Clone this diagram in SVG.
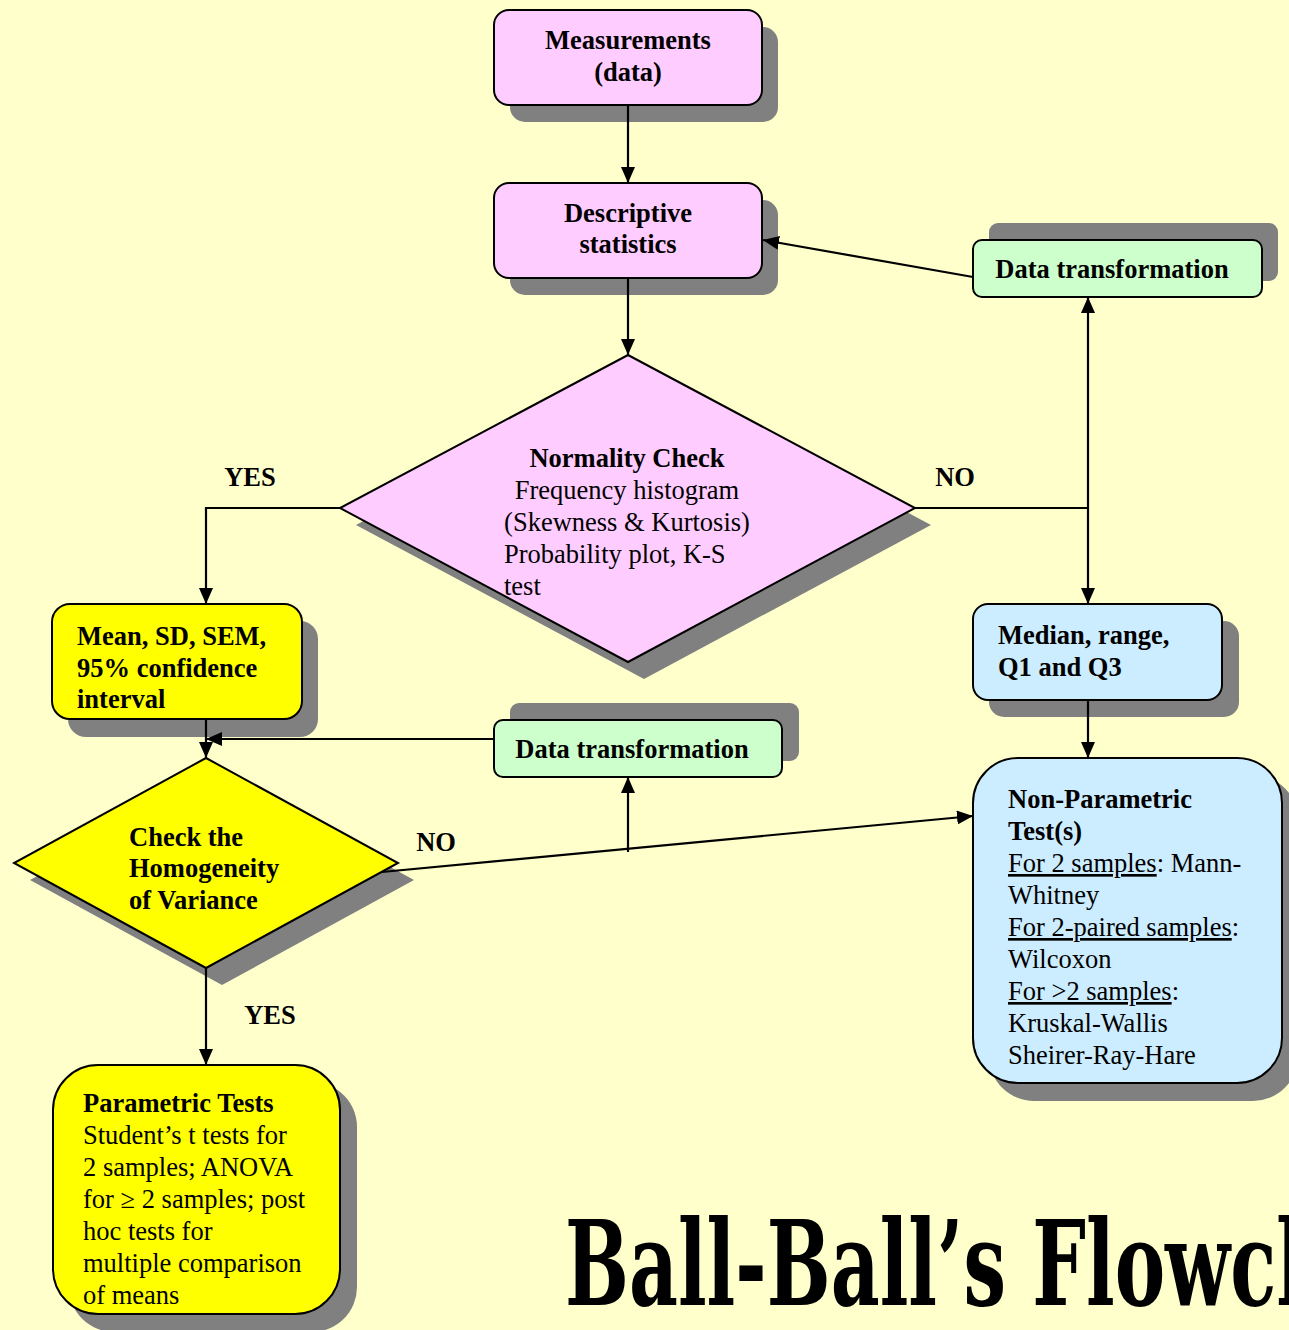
<svg xmlns="http://www.w3.org/2000/svg" width="1289" height="1330" viewBox="0 0 1289 1330">
  <defs>
    <style>
      .bg { fill: #FFFFCC; }
      .shadow { fill: #808080; }
      .box { stroke: #000; stroke-width: 2; }
      .pink { fill: #FFCCFF; }
      .green { fill: #CCFFCC; }
      .blue { fill: #CCECFF; }
      .yellow { fill: #FFFF00; }
      .t { font-family: "Liberation Serif", "Times New Roman", serif; font-size: 26.5px; fill: #000; }
      .b { font-weight: bold; }
      .c { text-anchor: middle; }
      .u { text-decoration: underline; }
      .conn path { fill: none; stroke: #000; stroke-width: 2.2; }
      .title { font-family: "DejaVu Serif Condensed", "DejaVu Serif", serif; font-weight: bold; font-size: 118px; fill: #000; }
    </style>
    <marker id="arrow" markerUnits="userSpaceOnUse" markerWidth="16" markerHeight="14" refX="16" refY="7" orient="auto">
      <path d="M0,0 L16,7 L0,14 z" fill="#000"/>
    </marker>
  </defs>

  <rect class="bg" x="0" y="0" width="1289" height="1330"/>

  <!-- Measurements (data) -->
  <g id="measurements">
    <rect class="shadow" x="510" y="27" width="268" height="95" rx="15"/>
    <rect class="box pink" x="494" y="10" width="268" height="95" rx="15"/>
    <text class="t b c" x="628" y="49">Measurements</text>
    <text class="t b c" x="628" y="81">(data)</text>
  </g>

  <!-- Descriptive statistics -->
  <g id="descriptive">
    <rect class="shadow" x="510" y="200" width="268" height="95" rx="15"/>
    <rect class="box pink" x="494" y="183" width="268" height="95" rx="15"/>
    <text class="t b c" x="628" y="222">Descriptive</text>
    <text class="t b c" x="628" y="253">statistics</text>
  </g>

  <!-- Data transformation (upper) -->
  <g id="transform-upper">
    <rect class="shadow" x="989" y="223" width="289" height="58" rx="9"/>
    <rect class="box green" x="973" y="240" width="289" height="57" rx="9"/>
    <text class="t b c" x="1112" y="278">Data transformation</text>
  </g>

  <!-- Normality check decision -->
  <g id="normality">
    <polygon class="shadow" points="644,372 931,525 644,679 356,525"/>
    <polygon class="box pink" points="628,355 915,508 628,662 340,508"/>
    <text class="t b c" x="627" y="467">Normality Check</text>
    <text class="t c" x="627" y="499">Frequency histogram</text>
    <text class="t c" x="627" y="531">(Skewness &amp; Kurtosis)</text>
    <text class="t" x="504" y="563">Probability plot, K-S</text>
    <text class="t" x="504" y="595">test</text>
  </g>

  <!-- Mean, SD, SEM -->
  <g id="mean">
    <rect class="shadow" x="68" y="621" width="250" height="116" rx="18"/>
    <rect class="box yellow" x="52" y="604" width="250" height="115" rx="18"/>
    <text class="t b" x="77" y="645">Mean, SD, SEM,</text>
    <text class="t b" x="77" y="677">95% confidence</text>
    <text class="t b" x="77" y="708">interval</text>
  </g>

  <!-- Median, range -->
  <g id="median">
    <rect class="shadow" x="989" y="621" width="250" height="96" rx="15"/>
    <rect class="box blue" x="973" y="604" width="249" height="96" rx="15"/>
    <text class="t b" x="998" y="644">Median, range,</text>
    <text class="t b" x="998" y="676">Q1 and Q3</text>
  </g>

  <!-- Data transformation (lower) -->
  <g id="transform-lower">
    <rect class="shadow" x="510" y="703" width="289" height="58" rx="9"/>
    <rect class="box green" x="494" y="720" width="288" height="57" rx="9"/>
    <text class="t b c" x="632" y="758">Data transformation</text>
  </g>

  <!-- Homogeneity of variance decision -->
  <g id="homogeneity">
    <polygon class="shadow" points="222,775 414,880 222,985 30,880"/>
    <polygon class="box yellow" points="206,758 398,863 206,968 14,863"/>
    <text class="t b" x="129" y="846">Check the</text>
    <text class="t b" x="129" y="877">Homogeneity</text>
    <text class="t b" x="129" y="909">of Variance</text>
  </g>

  <!-- Non-parametric tests -->
  <g id="nonparametric">
    <rect class="shadow" x="989" y="775" width="309" height="326" rx="45"/>
    <rect class="box blue" x="973" y="758" width="309" height="325" rx="45"/>
    <text class="t b" x="1008" y="808">Non-Parametric</text>
    <text class="t b" x="1008" y="840">Test(s)</text>
    <text class="t" x="1008" y="872"><tspan class="u">For 2 samples</tspan>: Mann-</text>
    <text class="t" x="1008" y="904">Whitney</text>
    <text class="t" x="1008" y="936"><tspan class="u">For 2-paired samples</tspan>:</text>
    <text class="t" x="1008" y="968">Wilcoxon</text>
    <text class="t" x="1008" y="1000"><tspan class="u">For &gt;2 samples</tspan>:</text>
    <text class="t" x="1008" y="1032">Kruskal-Wallis</text>
    <text class="t" x="1008" y="1064">Sheirer-Ray-Hare</text>
  </g>

  <!-- Parametric tests -->
  <g id="parametric">
    <rect class="shadow" x="69" y="1082" width="288" height="250" rx="45"/>
    <rect class="box yellow" x="53" y="1065" width="287" height="249" rx="45"/>
    <text class="t b" x="83" y="1112">Parametric Tests</text>
    <text class="t" x="83" y="1144">Student’s t tests for</text>
    <text class="t" x="83" y="1176">2 samples; ANOVA</text>
    <text class="t" x="83" y="1208">for ≥ 2 samples; post</text>
    <text class="t" x="83" y="1240">hoc tests for</text>
    <text class="t" x="83" y="1272">multiple comparison</text>
    <text class="t" x="83" y="1304">of means</text>
  </g>

  <!-- Connectors -->
  <g id="connectors" class="conn">
    <path d="M628,105 V183" marker-end="url(#arrow)"/>
    <path d="M628,278 V355" marker-end="url(#arrow)"/>
    <path d="M973,277 L763,240" marker-end="url(#arrow)"/>
    <path d="M915,508 H1088"/>
    <path d="M1088,508 V297" marker-end="url(#arrow)"/>
    <path d="M1088,508 V604" marker-end="url(#arrow)"/>
    <path d="M340,508 H206 V604" marker-end="url(#arrow)"/>
    <path d="M206,719 V758" marker-end="url(#arrow)"/>
    <path d="M494,739 H206" marker-end="url(#arrow)"/>
    <path d="M382,872 L973,816" marker-end="url(#arrow)"/>
    <path d="M628,852 V777" marker-end="url(#arrow)"/>
    <path d="M206,968 V1065" marker-end="url(#arrow)"/>
    <path d="M1088,700 V758" marker-end="url(#arrow)"/>
  </g>

  <!-- Branch labels -->
  <g id="labels">
    <text class="t b c" x="250" y="486">YES</text>
    <text class="t b c" x="955" y="486">NO</text>
    <text class="t b c" x="436" y="851">NO</text>
    <text class="t b c" x="270" y="1024">YES</text>
  </g>

  <!-- Title, running off the right edge -->
  <text class="title" x="565" y="1305" textLength="890" lengthAdjust="spacingAndGlyphs">Ball-Ball’s Flowchart</text>
</svg>
